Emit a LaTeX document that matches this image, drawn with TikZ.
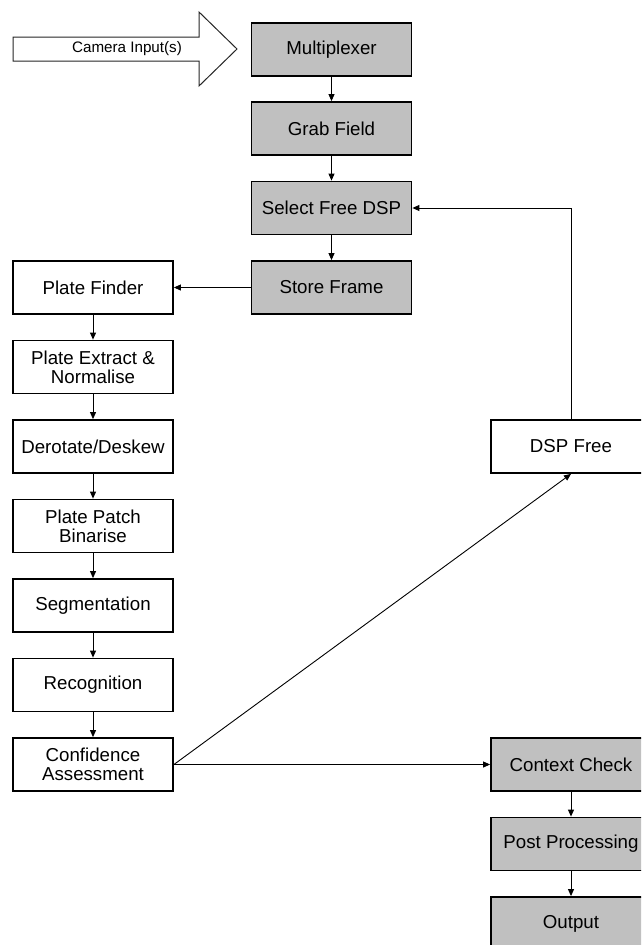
\documentclass[tikz,border=0pt]{standalone}
\usepackage{fontspec}
\setmainfont{Liberation Sans}
\usetikzlibrary{arrows.meta}
\definecolor{boxgray}{RGB}{192,192,192}
\begin{document}
\begin{tikzpicture}[x=1pt,y=-1pt,
  box/.style={draw=black, line width=1.8pt, minimum width=160pt, minimum height=53pt, inner sep=0pt, align=center, font=\fontsize{18.7}{19}\selectfont},
  gbox/.style={box, fill=boxgray},
  conn/.style={draw=black, line width=0.9pt, -{Triangle[length=7pt,width=6pt]}},
  bigarrow/.style={draw=black!85, line width=1pt, fill=white}
]
\useasboundingbox (0,0) rectangle (641,945);
\clip (0,0) rectangle (641,945);

% camera input arrow
\draw[bigarrow] (13,37) -- (199,37) -- (199,12) -- (237,49) -- (199,86) -- (199,61) -- (13,61) -- cycle;
\node[font=\fontsize{15.2}{16}\selectfont, inner sep=0pt] (cam) at (127,49) {Camera Input(s)};

% right column (gray)
\node[gbox] (mux)   at (331.5,49.5)  {Multiplexer};
\node[gbox] (grab)  at (331.5,128.5) {Grab Field};
\node[gbox] (sel)   at (331.5,208)   {Select Free DSP};
\node[gbox] (store) at (331.5,287.5) {Store Frame};

% left column
\node[box] (pf)   at (93,287.5) {Plate Finder};
\node[box] (pe)   at (93,367)   {Plate Extract \&\\Normalise};
\node[box] (dd)   at (93,446.5) {Derotate/Deskew};
\node[box] (pb)   at (93,526)   {Plate Patch\\Binarise};
\node[box] (seg)  at (93,605.5) {Segmentation};
\node[box] (rec)  at (93,685)   {Recognition};
\node[box] (conf) at (93,764.5) {Confidence\\Assessment};

% DSP free
\node[box] (dsp) at (571,446.5) {DSP Free};

% bottom right (gray)
\node[gbox] (ctx)  at (571,764.5) {Context Check};
\node[gbox] (post) at (571,844)   {Post Processing};
\node[gbox] (out)  at (571,923.5) {Output};

% connectors
\draw[conn] (mux) -- (grab);
\draw[conn] (grab) -- (sel);
\draw[conn] (sel) -- (store);
\draw[conn] (store) -- (pf);
\draw[conn] (pf) -- (pe);
\draw[conn] (pe) -- (dd);
\draw[conn] (dd) -- (pb);
\draw[conn] (pb) -- (seg);
\draw[conn] (seg) -- (rec);
\draw[conn] (rec) -- (conf);
\draw[conn] (dsp.north) |- (sel.east);
\draw[conn] (conf.east) -- (dsp.south);
\draw[conn] (conf.east) -- (ctx.west);
\draw[conn] (ctx) -- (post);
\draw[conn] (post) -- (out);
\end{tikzpicture}
\end{document}
